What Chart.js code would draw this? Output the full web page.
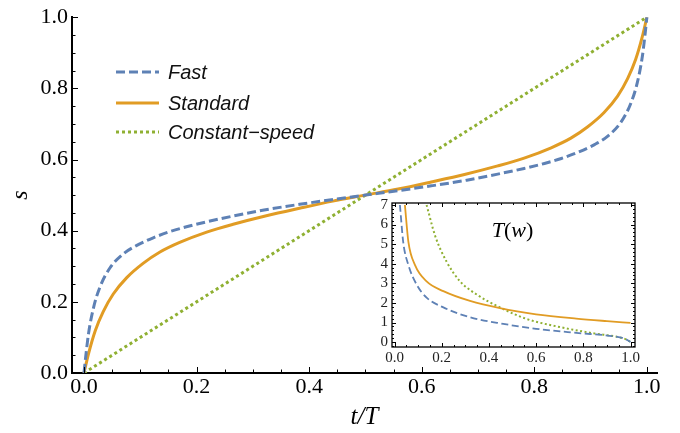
<!DOCTYPE html>
<html>
<head>
<meta charset="utf-8">
<script src="https://cdn.jsdelivr.net/npm/chart.js@4.4.1/dist/chart.umd.min.js"></script>
<style>
  html, body { margin: 0; padding: 0; background: #fff; }
  #wrap { position: relative; width: 680px; height: 433px; }
  #mainChart { position: absolute; left: 0; top: 0; width: 680px; height: 433px; }
  #insetChart { position: absolute; left: 360px; top: 190px; width: 300px; height: 180px; }
</style>
</head>
<body>
<div id="wrap">
  <canvas id="mainChart" width="680" height="433"></canvas>
  <canvas id="insetChart" width="300" height="180"></canvas>
</div>
<script>
// main plot: s against t/T
const fastT = [0, 0.003, 0.008, 0.017, 0.028, 0.046, 0.07, 0.093, 0.123, 0.152, 0.182, 0.218, 0.265, 0.32, 0.383, 0.44, 0.5,
  0.56, 0.617, 0.68, 0.735, 0.782, 0.818, 0.848, 0.877, 0.907, 0.93, 0.954, 0.972, 0.983, 0.992, 0.997, 1];
const fastS = [0, 0.045, 0.11, 0.184, 0.24, 0.295, 0.335, 0.358, 0.38, 0.397, 0.411, 0.425, 0.441, 0.458, 0.474, 0.487, 0.5,
  0.513, 0.526, 0.542, 0.559, 0.575, 0.589, 0.603, 0.62, 0.642, 0.665, 0.705, 0.76, 0.816, 0.89, 0.955, 1];

const stdT = [0, 0.008, 0.02, 0.034, 0.052, 0.076, 0.105, 0.135, 0.17, 0.218, 0.265, 0.324, 0.383, 0.442, 0.5,
  0.558, 0.617, 0.676, 0.735, 0.782, 0.83, 0.865, 0.895, 0.924, 0.948, 0.966, 0.98, 0.992, 1];
const stdS = [0, 0.054, 0.119, 0.172, 0.222, 0.268, 0.308, 0.34, 0.367, 0.396, 0.418, 0.442, 0.463, 0.483, 0.5,
  0.517, 0.537, 0.558, 0.582, 0.604, 0.633, 0.66, 0.692, 0.732, 0.778, 0.828, 0.881, 0.946, 1];

const constT = [0, 1];
const constS = [0, 1];

const mainTicks = [0, 0.2, 0.4, 0.6, 0.8, 1.0];

// inset: T(w)
const insFastW = [0.023, 0.037, 0.059, 0.094, 0.136, 0.207, 0.32, 0.461, 0.6, 0.77, 0.927, 0.97, 0.99, 1.0];
const insFastT = [7.0, 5.1, 3.93, 2.93, 2.27, 1.77, 1.27, 0.93, 0.68, 0.47, 0.3, 0.2, 0.08, 0.0];

const insStdW = [0.044, 0.059, 0.087, 0.136, 0.207, 0.32, 0.447, 0.6, 0.77, 0.9, 1.0];
const insStdT = [7.0, 5.1, 3.93, 3.1, 2.6, 2.1, 1.73, 1.42, 1.2, 1.07, 0.98];

const insConstW = [0.136, 0.172, 0.221, 0.278, 0.348, 0.447, 0.56, 0.7, 0.842, 0.955, 0.985, 1.0];
const insConstT = [7.0, 5.43, 4.1, 3.1, 2.43, 1.77, 1.18, 0.77, 0.45, 0.24, 0.12, 0.0];

const insetXTicks = [0, 0.2, 0.4, 0.6, 0.8, 1.0];
const insetYTicks = [0, 1, 2, 3, 4, 5, 6, 7];

const blue = '#5E81B5', orange = '#E19C24', green = '#8FB032';
const serif = '"Liberation Serif", "Times New Roman", serif';
const sans = '"Liberation Sans", Arial, sans-serif';

function pts(xs, ys) {
  return xs.map((x, i) => ({ x: x, y: ys[i] }));
}

// inward tick marks, Mathematica style
function drawTicks(ctx, chart, xStep, yStep, xMajor, yMajor, big, small, allSides) {
  const a = chart.chartArea, xs = chart.scales.x, ys = chart.scales.y;
  ctx.save();
  ctx.strokeStyle = '#000';
  ctx.lineWidth = 1;
  ctx.beginPath();
  for (let v = Math.ceil(xs.min / xStep) * xStep; v <= xs.max + 1e-9; v += xStep) {
    const p = Math.round(xs.getPixelForValue(v)) + 0.5;
    const r = v / xMajor;
    const len = Math.abs(r - Math.round(r)) < 1e-6 ? big : small;
    ctx.moveTo(p, a.bottom); ctx.lineTo(p, a.bottom - len);
    if (allSides) { ctx.moveTo(p, a.top); ctx.lineTo(p, a.top + len); }
  }
  for (let v = Math.ceil(ys.min / yStep) * yStep; v <= ys.max + 1e-9; v += yStep) {
    const p = Math.round(ys.getPixelForValue(v)) + 0.5;
    const r = v / yMajor;
    const len = Math.abs(r - Math.round(r)) < 1e-6 ? big : small;
    ctx.moveTo(a.left, p); ctx.lineTo(a.left + len, p);
    if (allSides) { ctx.moveTo(a.right, p); ctx.lineTo(a.right - len, p); }
  }
  ctx.stroke();
  ctx.restore();
}

const mainExtras = {
  id: 'mainExtras',
  afterDraw(chart) {
    const ctx = chart.ctx;
    drawTicks(ctx, chart, 0.05, 0.05, 0.2, 0.2, 6, 3.5, false);
    // legend
    const rows = [72, 103, 132];
    ctx.save();
    ctx.font = 'italic 20px ' + sans;
    ctx.textBaseline = 'middle';
    ctx.fillStyle = '#111';
    chart.data.datasets.forEach((d, i) => {
      ctx.beginPath();
      ctx.strokeStyle = d.borderColor;
      ctx.lineWidth = d.borderWidth;
      ctx.setLineDash(d.borderDash || []);
      ctx.moveTo(116, rows[i]); ctx.lineTo(159, rows[i]);
      ctx.stroke();
      ctx.fillText(d.label, 168, rows[i] + 1);
    });
    ctx.restore();
  }
};

new Chart(document.getElementById('mainChart'), {
  type: 'line',
  data: {
    datasets: [
      { label: 'Fast', data: pts(fastT, fastS), borderColor: blue, borderWidth: 3, borderDash: [9, 4] },
      { label: 'Standard', data: pts(stdT, stdS), borderColor: orange, borderWidth: 3 },
      { label: 'Constant\u2212speed', data: pts(constT, constS), borderColor: green, borderWidth: 3, borderDash: [3, 3] }
    ]
  },
  options: {
    responsive: false,
    animation: false,
    layout: { padding: { top: 13, right: 23, left: 0, bottom: 0 } },
    elements: { point: { radius: 0 }, line: { cubicInterpolationMode: 'monotone', fill: false } },
    plugins: { legend: { display: false }, tooltip: { enabled: false } },
    scales: {
      x: {
        type: 'linear', min: -0.0213, max: 1.018,
        afterFit: s => { s.height = 60; },
        afterBuildTicks: s => { s.ticks = mainTicks.map(v => ({ value: v })); },
        grid: { display: false, drawTicks: false },
        border: { display: true, color: '#000', width: 2 },
        ticks: { padding: 1, color: '#000', autoSkip: false, maxRotation: 0,
          font: { family: serif, size: 22 }, callback: v => v.toFixed(1) },
        title: { display: true, text: 't/T', color: '#000', padding: { top: 0, bottom: 1 },
          font: { family: serif, size: 25, style: 'italic' } }
      },
      y: {
        type: 'linear', min: 0, max: 1,
        afterFit: s => { s.width = 72; },
        afterBuildTicks: s => { s.ticks = mainTicks.map(v => ({ value: v })); },
        grid: { display: false, drawTicks: false },
        border: { display: true, color: '#000', width: 2 },
        ticks: { padding: 4, color: '#000', autoSkip: false,
          font: { family: serif, size: 22 }, callback: v => v.toFixed(1) },
        title: { display: true, text: 's', color: '#000', padding: { top: 6, bottom: 0 },
          font: { family: serif, size: 24, style: 'italic' } }
      }
    }
  },
  plugins: [mainExtras]
});

const insetExtras = {
  id: 'insetExtras',
  afterDraw(chart) {
    const ctx = chart.ctx, a = chart.chartArea;
    ctx.save();
    ctx.strokeStyle = '#000';
    ctx.lineWidth = 1.3;
    ctx.strokeRect(a.left, a.top, a.right - a.left, a.bottom - a.top);
    ctx.restore();
    drawTicks(ctx, chart, 0.05, 0.2, 0.2, 1, 4, 2, true);
    // title T(w), upright parentheses
    const cx = chart.scales.x.getPixelForValue(0.5);
    const cy = chart.scales.y.getPixelForValue(5.65);
    const parts = [['T', 'italic '], ['(', ''], ['w', 'italic '], [')', '']];
    ctx.save();
    ctx.fillStyle = '#000';
    ctx.textBaseline = 'middle';
    let w = 0;
    parts.forEach(p => { ctx.font = p[1] + '22px ' + serif; w += ctx.measureText(p[0]).width; });
    let x = cx - w / 2;
    parts.forEach(p => {
      ctx.font = p[1] + '22px ' + serif;
      ctx.fillText(p[0], x, cy);
      x += ctx.measureText(p[0]).width;
    });
    ctx.restore();
  }
};

new Chart(document.getElementById('insetChart'), {
  type: 'line',
  data: {
    datasets: [
      { label: 'Fast', data: pts(insFastW, insFastT), borderColor: blue, borderWidth: 1.8, borderDash: [7, 3.5] },
      { label: 'Standard', data: pts(insStdW, insStdT), borderColor: orange, borderWidth: 1.8 },
      { label: 'Constant-speed', data: pts(insConstW, insConstT), borderColor: green, borderWidth: 2, borderDash: [2, 2.5] }
    ]
  },
  options: {
    responsive: false,
    animation: false,
    layout: { padding: { top: 10, right: 25, left: 0, bottom: 0 } },
    elements: { point: { radius: 0 }, line: { cubicInterpolationMode: 'monotone', fill: false } },
    plugins: { legend: { display: false }, tooltip: { enabled: false } },
    scales: {
      x: {
        type: 'linear', min: -0.0106, max: 1.019,
        afterFit: s => { s.height = 23; },
        afterBuildTicks: s => { s.ticks = insetXTicks.map(v => ({ value: v })); },
        grid: { display: false, drawTicks: false },
        border: { display: false },
        ticks: { padding: 2, color: '#222', autoSkip: false, maxRotation: 0,
          font: { family: serif, size: 15 }, callback: v => v.toFixed(1) }
      },
      y: {
        type: 'linear', min: -0.25, max: 7.1,
        afterFit: s => { s.width = 32; },
        afterBuildTicks: s => { s.ticks = insetYTicks.map(v => ({ value: v })); },
        grid: { display: false, drawTicks: false },
        border: { display: false },
        ticks: { padding: 4, color: '#222', autoSkip: false,
          font: { family: serif, size: 15 }, callback: v => String(v) }
      }
    }
  },
  plugins: [insetExtras]
});
</script>
</body>
</html>
